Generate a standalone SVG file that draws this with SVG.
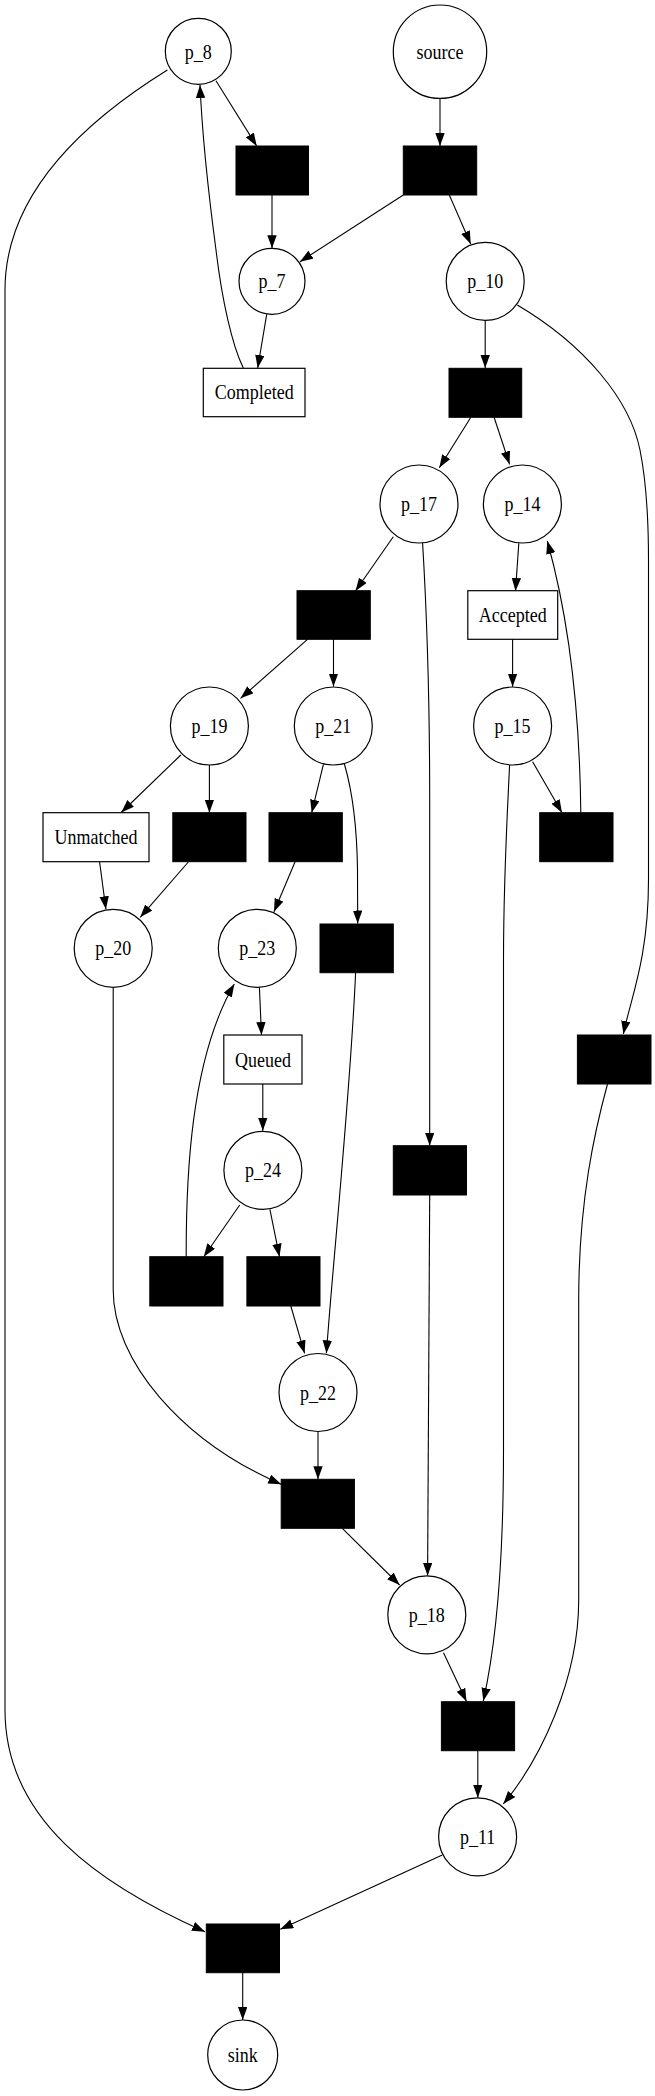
<svg xmlns="http://www.w3.org/2000/svg" width="655" height="2096" viewBox="0 0 655 2096">
<style>
.pl{fill:#fff;stroke:#000;stroke-width:1.2}
.tr{fill:#000;stroke:#000;stroke-width:1}
.lb{fill:#fff;stroke:#000;stroke-width:1.2}
.tx{font-family:"Liberation Serif","Times New Roman",serif;font-size:18px;text-anchor:middle;fill:#000}
.e{fill:none;stroke:#000;stroke-width:1.1;marker-end:url(#ah)}
</style>
<defs>
<marker id="ah" markerUnits="userSpaceOnUse" markerWidth="14" markerHeight="10" refX="13" refY="4.7" orient="auto">
<path d="M0,0 L13,4.7 L0,9.4 z" fill="#000"/>
</marker>
</defs>
<rect width="655" height="2096" fill="#fff"/>
<g id="edges">
<path class="e" d="M440,98.4 L440,146"/>
<path class="e" d="M216,80.7 L256.7,146"/>
<path class="e" d="M272,195 L272,248.3"/>
<path class="e" d="M403.3,195 L300,261.7"/>
<path class="e" d="M449.3,195 L470.7,244"/>
<path class="e" d="M266.7,314.3 L257.7,368"/>
<path class="e" d="M243.3,368 C232,345 222,300 216,250 C208,190 202,130 200,85"/>
<path class="e" d="M167.4,70 C90,118 5,190 5,290 L5,1710 C5,1820 100,1885 205,1931.7"/>
<path class="e" d="M485.2,320 L485.2,368"/>
<path class="e" d="M517.3,305 C585,345 630,400 640,450 C645,475 648.5,510 648.5,560 L648.5,880 C648.5,960 630,1000 623.4,1034"/>
<path class="e" d="M471,417 L439.3,467.7"/>
<path class="e" d="M494,417 L509.6,464.3"/>
<path class="e" d="M393.3,536.7 L355.5,591"/>
<path class="e" d="M422.6,543 C426,600 429.7,700 429.7,800 L429.7,1145.7"/>
<path class="e" d="M518.8,543.3 L515.5,591"/>
<path class="e" d="M512.6,639 L512.6,686.7"/>
<path class="e" d="M307.5,639.3 L240.6,698.3"/>
<path class="e" d="M333.5,639.3 L333.5,686.5"/>
<path class="e" d="M532.6,761.7 L562,812.7"/>
<path class="e" d="M580.8,812.7 C580,740 575,640 547.3,541"/>
<path class="e" d="M509.6,765 C507,820 503.5,880 503.5,960 L503.5,1450 C503.5,1560 497,1640 483.3,1701"/>
<path class="e" d="M180.8,755 L121.3,812.5"/>
<path class="e" d="M209.4,765 L209.4,812.7"/>
<path class="e" d="M323.4,764.3 L311.7,812.7"/>
<path class="e" d="M344.4,764 C352,790 357,830 357.5,870 L357.7,923.5"/>
<path class="e" d="M99.6,862 L105.9,909.3"/>
<path class="e" d="M188.3,862 L140.2,917.3"/>
<path class="e" d="M295,862 L274,911.7"/>
<path class="e" d="M259.4,987.3 L261.5,1035"/>
<path class="e" d="M262.8,1084 L262.8,1130.7"/>
<path class="e" d="M239.7,1205 L203.8,1256.7"/>
<path class="e" d="M269.9,1209.3 L279.5,1256.7"/>
<path class="e" d="M186.2,1256.7 C186,1180 190,1060 234.3,984"/>
<path class="e" d="M355.6,972.7 C350,1100 333,1260 326.4,1353.3"/>
<path class="e" d="M290.8,1306 L304.6,1353.3"/>
<path class="e" d="M113.2,987.3 L113.2,1290 C113.2,1360 180,1440 281.2,1484.3"/>
<path class="e" d="M318,1431.7 L318,1479.3"/>
<path class="e" d="M342.3,1528.3 L399.6,1585"/>
<path class="e" d="M429.7,1195 L427.6,1575.7"/>
<path class="e" d="M443.5,1652.7 L466.5,1701.5"/>
<path class="e" d="M607.5,1084 C595,1130 578.7,1200 578.7,1300 L578.7,1600 C578.7,1680 540,1760 503.3,1804"/>
<path class="e" d="M477.8,1750.7 L477.8,1797.7"/>
<path class="e" d="M442.3,1855 L280.3,1929.3"/>
<path class="e" d="M242.7,1972.7 L242.7,2020"/>
</g>
<g id="source"><circle class="pl" cx="440" cy="51.7" r="46.7"/><text class="tx" transform="translate(440,58.7) scale(1,1.12)">source</text></g>
<g id="p_8"><circle class="pl" cx="198.3" cy="51.3" r="33"/><text class="tx" transform="translate(198.3,58.5) scale(1,1.12)">p_8</text></g>
<g id="t_1"><rect class="tr" x="236" y="146" width="72.5" height="49"/></g>
<g id="t_2"><rect class="tr" x="403.3" y="146" width="73.4" height="49"/></g>
<g id="p_7"><circle class="pl" cx="272" cy="281.3" r="33"/><text class="tx" transform="translate(272,288.3) scale(1,1.12)">p_7</text></g>
<g id="p_10"><circle class="pl" cx="485.2" cy="281.3" r="39"/><text class="tx" transform="translate(485.2,288.3) scale(1,1.12)">p_10</text></g>
<g id="completed"><rect class="lb" x="203.3" y="368.3" width="101.7" height="48.4"/><text class="tx" transform="translate(254.2,399.3) scale(1,1.12)">Completed</text></g>
<g id="t_3"><rect class="tr" x="449" y="368.3" width="72.7" height="49"/></g>
<g id="p_17"><circle class="pl" cx="419" cy="504" r="39"/><text class="tx" transform="translate(419,511) scale(1,1.12)">p_17</text></g>
<g id="p_14"><circle class="pl" cx="522.4" cy="504" r="39"/><text class="tx" transform="translate(522.4,511) scale(1,1.12)">p_14</text></g>
<g id="t_4"><rect class="tr" x="297" y="590.7" width="73.3" height="48.6"/></g>
<g id="accepted"><rect class="lb" x="467.8" y="590.7" width="89.9" height="48.6"/><text class="tx" transform="translate(512.8,621.7) scale(1,1.12)">Accepted</text></g>
<g id="p_19"><circle class="pl" cx="209.4" cy="726" r="39"/><text class="tx" transform="translate(209.4,733) scale(1,1.12)">p_19</text></g>
<g id="p_21"><circle class="pl" cx="333.3" cy="726" r="39"/><text class="tx" transform="translate(333.3,733) scale(1,1.12)">p_21</text></g>
<g id="p_15"><circle class="pl" cx="512.6" cy="726" r="39"/><text class="tx" transform="translate(512.6,733) scale(1,1.12)">p_15</text></g>
<g id="unmatched"><rect class="lb" x="43" y="812.7" width="106" height="49"/><text class="tx" transform="translate(96,844) scale(1,1.12)">Unmatched</text></g>
<g id="t_5"><rect class="tr" x="172.8" y="812.7" width="73.2" height="49"/></g>
<g id="t_6"><rect class="tr" x="269" y="812.7" width="73.3" height="49"/></g>
<g id="t_15"><rect class="tr" x="539.7" y="812.7" width="73.3" height="49"/></g>
<g id="p_20"><circle class="pl" cx="113.2" cy="948.3" r="39"/><text class="tx" transform="translate(113.2,955.3) scale(1,1.12)">p_20</text></g>
<g id="p_23"><circle class="pl" cx="257.3" cy="948.3" r="39"/><text class="tx" transform="translate(257.3,955.3) scale(1,1.12)">p_23</text></g>
<g id="t_7"><rect class="tr" x="320" y="924" width="73.3" height="48.7"/></g>
<g id="queued"><rect class="lb" x="223.8" y="1035" width="78.2" height="49"/><text class="tx" transform="translate(262.9,1066.5) scale(1,1.12)">Queued</text></g>
<g id="t_10"><rect class="tr" x="577.4" y="1035" width="73.6" height="49"/></g>
<g id="p_24"><circle class="pl" cx="262.9" cy="1170.3" r="39"/><text class="tx" transform="translate(262.9,1177.3) scale(1,1.12)">p_24</text></g>
<g id="t_8"><rect class="tr" x="393.3" y="1145.7" width="73.2" height="49.3"/></g>
<g id="t_11"><rect class="tr" x="149.8" y="1256.7" width="73.2" height="49.3"/></g>
<g id="t_12"><rect class="tr" x="246.9" y="1256.7" width="73.1" height="49.3"/></g>
<g id="p_22"><circle class="pl" cx="318" cy="1392.5" r="39"/><text class="tx" transform="translate(318,1399.5) scale(1,1.12)">p_22</text></g>
<g id="t_13"><rect class="tr" x="281.2" y="1479.3" width="73.2" height="49"/></g>
<g id="p_18"><circle class="pl" cx="426.8" cy="1614.8" r="39"/><text class="tx" transform="translate(426.8,1621.8) scale(1,1.12)">p_18</text></g>
<g id="t_9"><rect class="tr" x="441.4" y="1701.7" width="73.2" height="49"/></g>
<g id="p_11"><circle class="pl" cx="477.6" cy="1836.8" r="39"/><text class="tx" transform="translate(477.6,1843.8) scale(1,1.12)">p_11</text></g>
<g id="t_14"><rect class="tr" x="206.3" y="1924" width="73.2" height="48.7"/></g>
<g id="sink"><circle class="pl" cx="242.7" cy="2055" r="35"/><text class="tx" transform="translate(242.7,2062) scale(1,1.12)">sink</text></g>
</svg>
